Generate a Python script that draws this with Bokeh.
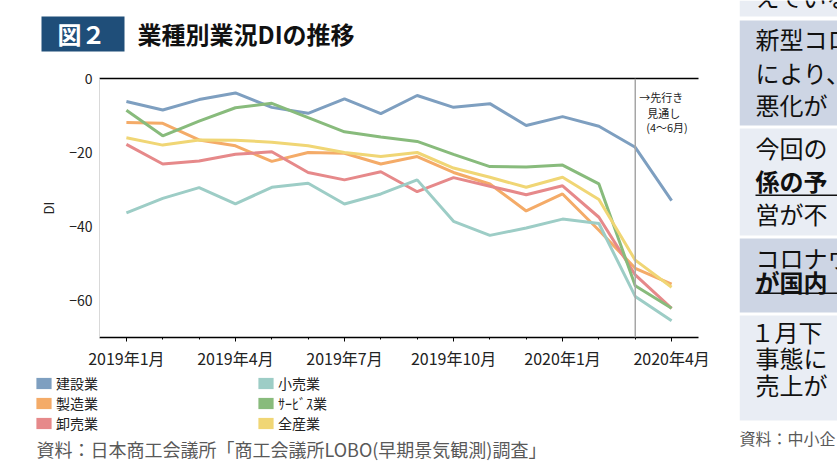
from bokeh.plotting import figure
from bokeh.layouts import row, column
from bokeh.models import (Range1d, FixedTicker, LinearAxis, Span, Label,
                          BoxAnnotation, Legend, LegendItem, ColumnDataSource)
from bokeh.embed import file_html
from bokeh.resources import INLINE

# ---------------- data ----------------
months = ["2019年1月", "2019年2月", "2019年3月", "2019年4月", "2019年5月", "2019年6月",
          "2019年7月", "2019年8月", "2019年9月", "2019年10月", "2019年11月", "2019年12月",
          "2020年1月", "2020年2月", "2020年3月", "2020年4月"]
tick_idx = [0, 3, 6, 9, 12, 15]
series_names = ["建設業", "製造業", "卸売業", "小売業", "ｻｰﾋﾞｽ業", "全産業"]
kensetsu = [-6.2, -8.5, -5.7, -3.9, -7.8, -9.4, -5.5, -9.5, -4.6, -7.8, -6.8, -12.7, -10.3, -12.9, -18.6, -33.0]
seizo = [-11.9, -12.1, -16.6, -18.2, -22.4, -20.0, -20.2, -23.1, -21.1, -25.4, -28.5, -35.8, -31.2, -41.0, -51.3, -55.6]
oroshi = [-17.8, -23.1, -22.3, -20.5, -19.8, -25.4, -27.4, -25.2, -30.6, -26.8, -29.1, -31.4, -29.0, -37.5, -53.1, -62.1]
kouri = [-36.3, -32.4, -29.5, -33.9, -29.4, -28.3, -33.9, -31.2, -27.4, -38.6, -42.4, -40.4, -38.0, -39.2, -58.9, -65.5]
service = [-8.6, -15.5, -11.5, -7.9, -6.7, -10.6, -14.4, -15.8, -17.0, -20.5, -23.8, -23.9, -23.4, -28.5, -56.0, -62.1]
zensangyo = [-16.0, -18.0, -16.6, -16.7, -17.2, -18.2, -20.0, -21.1, -20.0, -24.2, -26.7, -29.4, -26.7, -32.7, -49.1, -56.4]
forecast_start = 14  # 2020年3月: 以降は先行き見通し
y_ticks = [0, -20, -40, -60]

colors = ["#7e9fc0", "#f4ab68", "#e6898a", "#9dcdc6", "#88bb7c", "#f0d675"]

FONT = "Noto Sans CJK JP"
LEFT_W, RIGHT_W = 739, 98
HEAD_H, MAIN_H = 60, 312
FOOT_H = 466 - HEAD_H - MAIN_H
FL, FR, FT, FB = 99, 698, 78, 337   # main frame edges on the page
NAN = float("nan")


def blank(w, h):
    f = figure(width=w, height=h, output_backend="svg", toolbar_location=None,
               x_range=Range1d(0, w), y_range=Range1d(h, 0), min_border=0,
               x_axis_type=None, y_axis_type=None)
    f.outline_line_color = None
    f.grid.visible = False
    f.background_fill_color = "white"
    f.border_fill_color = "white"
    return f


def box(left, right, top, bottom, color):
    return BoxAnnotation(left=left, right=right, top=top, bottom=bottom, fill_color=color,
                         fill_alpha=1, line_color=None, level="underlay")


def lab(text, x, y, size, color="#111111", style="normal", align="left"):
    return Label(x=x, y=y, text=text, text_font=FONT, text_font_size=size,
                 text_font_style=style, text_color=color, text_align=align,
                 text_baseline="middle")


# ---------------- head (title) ----------------
head = blank(LEFT_W, HEAD_H)
head.add_layout(box(41, 124, 16, 51, "#1f4e79"))
head.add_layout(lab("図２", 81, 33, "24px", "white", "bold", "center"))
head.add_layout(lab("業種別業況DIの推移", 137, 33, "24px", "#111111", "bold"))

# ---------------- main chart ----------------
p = figure(width=LEFT_W, height=MAIN_H, output_backend="svg", toolbar_location=None,
           x_range=Range1d(-0.74, 15.74), y_range=Range1d(-70, 0),
           min_border_left=FL, min_border_right=LEFT_W - FR, min_border_top=FT - HEAD_H,
           min_border_bottom=HEAD_H + MAIN_H - FB)
p.outline_line_color = None
p.grid.visible = False
p.background_fill_color = "white"
p.border_fill_color = "white"

xa = p.xaxis[0]
xa.ticker = FixedTicker(ticks=tick_idx, minor_ticks=list(range(len(months))))
xa.major_label_overrides = {i: months[i] for i in tick_idx}
xa.axis_line_color = "black"
xa.axis_line_width = 1.3
xa.major_tick_line_color = "black"
xa.minor_tick_line_color = "black"
xa.major_tick_in = 0
xa.major_tick_out = 4
xa.minor_tick_in = 0
xa.minor_tick_out = 2
xa.major_label_text_font = FONT
xa.major_label_text_font_size = "16px"
xa.major_label_text_color = "#222222"
xa.major_label_standoff = 4

ya = p.yaxis[0]
ya.ticker = FixedTicker(ticks=y_ticks)
ya.axis_line_color = "#d9d9d9"
ya.major_tick_line_color = None
ya.minor_tick_line_color = None
ya.major_tick_out = 0
ya.major_tick_in = 0
ya.major_label_standoff = 7
ya.major_label_text_font = FONT
ya.major_label_text_font_size = "14px"
ya.major_label_text_color = "#222222"
ya.axis_label = "DI"
ya.axis_label_text_font = FONT
ya.axis_label_text_font_style = "normal"
ya.axis_label_text_font_size = "13px"
ya.axis_label_text_color = "#222222"
ya.axis_label_standoff = 8

top_ax = LinearAxis(ticker=FixedTicker(ticks=[]), axis_line_color="black", axis_line_width=1.3,
                    major_tick_line_color=None, minor_tick_line_color=None,
                    major_label_text_font_size="0px")
p.add_layout(top_ax, "above")

src = ColumnDataSource(dict(x=list(range(len(months))), kensetsu=kensetsu, seizo=seizo,
                            oroshi=oroshi, kouri=kouri, service=service, zensangyo=zensangyo))
cols = ["kensetsu", "seizo", "oroshi", "kouri", "service", "zensangyo"]
for col, c in zip(cols, colors):
    p.line(x="x", y=col, source=src, line_color=c, line_width=3)

p.add_layout(Span(location=forecast_start, dimension="height", line_color="#a6a6a6",
                  line_width=1.5))
for t, xx, yy in [("→先行き", 14.11, -4.9), ("見通し", 14.33, -9.2), ("(4～6月)", 14.3, -13.0)]:
    p.add_layout(Label(x=xx, y=yy, text=t, text_font=FONT, text_font_size="11px",
                       text_color="#222222", text_baseline="middle"))

# ---------------- footer (legend + source) ----------------
foot = blank(LEFT_W, FOOT_H)
items = []
for name, c in zip(series_names, colors):
    # legend proxy: a swatch with no visible extent
    r = foot.quad(left=[NAN], right=[NAN], top=[NAN], bottom=[NAN], fill_color=c,
                  line_color=None)
    items.append(LegendItem(label=name, renderers=[r]))
legend = Legend(items=items, location=(34, FOOT_H - 61), nrows=3, orientation="vertical",
                glyph_width=19, glyph_height=14, label_standoff=3, label_width=200,
                label_height=20, spacing=0, padding=0, margin=0,
                label_text_font=FONT, label_text_font_size="14px", label_text_color="#222222",
                background_fill_alpha=0, border_line_color=None)
foot.add_layout(legend)
foot.add_layout(lab("資料：日本商工会議所「商工会議所LOBO(早期景気観測)調査」", 36,
                    448 - HEAD_H - MAIN_H, "18px", "#595959"))

# ---------------- right-hand panel (cut off in the original) ----------------
side = blank(RIGHT_W, 466)
for top, bot, fc in [(0, 16, "#e9edf4"), (20, 125, "#cdd5e4"), (128, 235, "#e9edf4"),
                     (238, 312, "#cdd5e4"), (315, 420, "#e9edf4")]:
    side.add_layout(box(0, RIGHT_W, top, bot, fc))
panel_text = [("えている", 16, -4, "normal"),
              ("新型コロ", 16, 38, "normal"), ("により、", 16, 72, "normal"),
              ("悪化が", 16, 104, "normal"), ("今回の", 16, 147, "normal"),
              ("係の予", 16, 180, "bold"), ("営が不", 16, 213, "normal"),
              ("コロナウ", 16, 257, "normal"), ("が国内", 16, 281, "bold"),
              ("１月下", 11, 331, "normal"), ("事態に", 16, 357, "normal"),
              ("売上が", 16, 384, "normal")]
for t, xx, yy, st in panel_text:
    side.add_layout(lab(t, xx, yy, "24px", "#111111", st))
for yy in [194, 292]:
    side.add_layout(box(16, RIGHT_W, yy, yy + 1.5, "#111111"))
side.add_layout(lab("資料：中小企", 0, 437, "16px", "#595959"))

left_col = column(row(head), row(p), row(foot))
layout = row(left_col, side)
open("out.html", "w").write(file_html(layout, INLINE))
